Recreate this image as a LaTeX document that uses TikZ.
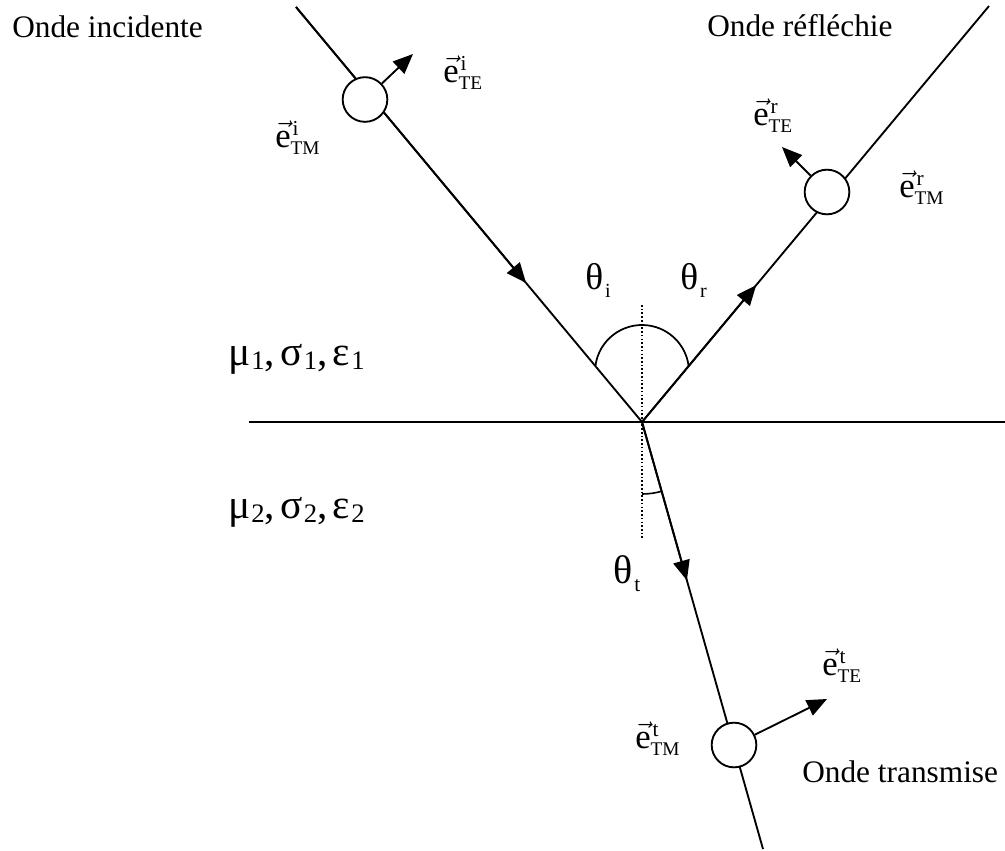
\documentclass[tikz,border=0pt]{standalone}
\usepackage{fontspec}
\setmainfont{Liberation Serif}
\usetikzlibrary{arrows.meta,calc}
\newcommand\evlab[2]{\fontsize{26}{26}\selectfont$\vec{\mbox{e}}$\rlap{\kern1.5pt\raisebox{8.5pt}{\fontsize{16}{16}\selectfont #1}}\raisebox{-5.5pt}{\fontsize{14.5}{14}\selectfont #2}}
\newcommand\thlab[3]{\fontsize{#3}{#3}\selectfont θ\kern1.5pt\raisebox{-6pt}{\fontsize{#2}{12}\selectfont #1}}
\newcommand\msub[1]{\kern0.8pt\raisebox{-3.5pt}{\fontsize{20}{18}\selectfont #1}}
\newcommand\medium[1]{μ\msub{#1},\kern4pt σ\msub{#1},\kern4pt ε\msub{#1}}
\begin{document}
\begin{tikzpicture}[x=0.75pt,y=-0.75pt,
  ray/.style={line width=1.4pt},
  tipx/.style={-{Triangle[length=15pt,width=12.5pt]}},
  pol/.style={circle,draw,line width=1.4pt,fill=white,minimum size=33.5pt,inner sep=0pt},
  lab/.style={anchor=base west,inner sep=0pt,font=\fontsize{23.5}{28}\selectfont},
  glab/.style={anchor=base west,inner sep=0pt,font=\fontsize{31}{32}\selectfont},
  tlab/.style={anchor=base west,inner sep=0pt}]
\useasboundingbox (0,0) rectangle (1005,850);
% key points
\coordinate (A) at (296,7);
\coordinate (O) at (642,422);
\coordinate (R) at (989,6);
\coordinate (T) at (763,849);
\coordinate (L) at (249,422);
\coordinate (E) at (1006,422);
\coordinate (N1) at (642,305);
\coordinate (N2) at (642,538);
\coordinate (C) at (642,372);
% interface and normal
\draw[ray] (L) -- (E);
\draw[line width=1pt, dash pattern=on 1.2pt off 1.6pt] (N1) -- (N2);
% rays
\draw[ray] (A) -- (O);
\draw[ray] (O) -- (R);
\draw[ray] (O) -- (T);
\draw[ray,tipx] (A) -- ($(A)!0.665!(O)$);
\draw[ray,tipx] (O) -- ($(O)!0.329!(R)$);
\draw[ray,tipx] (O) -- ($(O)!0.371!(T)$);
% angle arcs
\draw[line width=1.3pt] ($(C)+(187.3:47)$) arc[start angle=187.3, end angle=352.7, radius=47];
\draw[line width=1.2pt] ($(O)+(90:72)$) arc[start angle=90, end angle=74.1, radius=72];
% polarisation circles and TE vectors
\node[pol] (ci) at (365,99.5) {};
\node[pol] (cr) at (827,192) {};
\node[pol] (ct) at (734,745) {};
\coordinate (ti) at (413,54);
\coordinate (tr) at (782,147);
\coordinate (tt) at (827,699);
\draw[ray,tipx] (ci) -- (ti);
\draw[ray,tipx] (cr) -- (tr);
\draw[ray,tipx] (ct) -- (tt);
% texts
\node[lab] (onI) at (12,37) {Onde incidente};
\node[lab] (onR) at (707,36) {Onde réfléchie};
\node[lab] (onT) at (802,782) {Onde transmise};
\node[tlab] (thi) at (585,289) {\thlab{i}{15}{28}};
\node[tlab] (thr) at (680,289) {\thlab{r}{15}{28}};
\node[tlab] (tht) at (613,583) {\thlab{t}{16}{30}};
\node[glab] (m1) at (228,365) {\medium{1}};
\node[glab] (m2) at (228,518) {\medium{2}};
\node[tlab] (eiTE) at (443,82) {\evlab{i}{TE}};
\node[tlab] (eiTM) at (275,147) {\evlab{i}{TM}};
\node[tlab] (erTE) at (753,125) {\evlab{r}{TE}};
\node[tlab] (erTM) at (899,197) {\evlab{r}{TM}};
\node[tlab] (etTE) at (822,675) {\evlab{t}{TE}};
\node[tlab] (etTM) at (635,748) {\evlab{t}{TM}};
\end{tikzpicture}
\end{document}
